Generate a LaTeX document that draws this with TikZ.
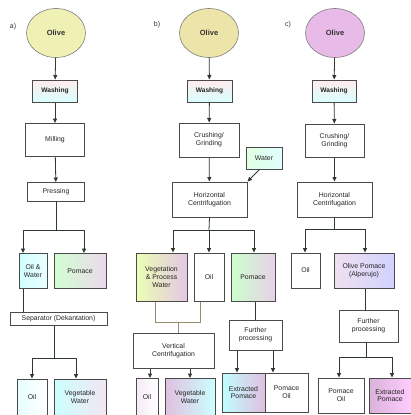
\documentclass[tikz,border=0pt]{standalone}
\usepackage{fontspec}
\setmainfont{Liberation Sans}
\usetikzlibrary{shapes.geometric,arrows.meta}
\definecolor{ln}{HTML}{2E3A2E}
\definecolor{bd}{HTML}{4A4A4A}
\tikzset{
  box/.style={draw=bd, line width=1pt, inner sep=1pt, align=center, text=black!85,
    font=\fontsize{6.9}{7.8}\selectfont},
  oliv/.style={ellipse, draw=bd!70, line width=0.6pt, inner sep=0pt,
    minimum width=59pt, minimum height=49pt, font=\fontsize{7.5}{8}\selectfont\bfseries, text=black!80},
  conn/.style={draw=ln, line width=0.8pt},
  arr/.style={conn, -{Triangle[length=4.5pt,width=4pt]}},
  lbl/.style={font=\fontsize{7}{8}\selectfont, text=black!80},
  wash/.style={box, top color=pink!30, bottom color=cyan!15, font=\fontsize{6.6}{7.4}\selectfont\bfseries},
}
\begin{document}
\begin{tikzpicture}[x=1pt,y=-1pt]
\useasboundingbox (0,0) rectangle (411,415);
\fill[white] (0,0) rectangle (411,415);

% ---------- a ----------
\node[lbl] (la) at (13,27) {a)};
\node[oliv, fill={rgb,255:red,238;green,240;blue,180}] (aolive) at (56,33) {Olive};
\node[wash, minimum width=45pt, minimum height=22pt] (awash) at (55,91) {Washing};
\node[box, fill=white, minimum width=59pt, minimum height=33pt] (amill) at (55,140) {Milling};
\node[box, fill=white, minimum width=57pt, minimum height=19pt] (apress) at (56,192) {Pressing};
\node[box, left color=cyan!18, right color=cyan!8, minimum width=28pt, minimum height=35pt] (aow) at (33,271) {Oil \&\\Water};
\node[box, left color=green!18, right color=violet!15, minimum width=52pt, minimum height=35pt] (apom) at (80,271) {Pomace};
\node[box, fill=white, minimum width=97pt, minimum height=13pt] (asep) at (58.5,318.5) {Separator (Dekantation)};
\node[box, left color=cyan!10, right color=white, minimum width=30pt, minimum height=36pt] (aoil) at (32,397) {Oil};
\node[box, left color=cyan!20, right color=violet!10, minimum width=52pt, minimum height=36pt] (aveg) at (80,397) {Vegetable\\Water};

\draw[arr] (aolive) -- (awash);
\draw[arr] (awash) -- (amill);
\draw[arr] (amill) -- (apress);
\coordinate (aL) at (23,230);
\coordinate (aR) at (84,230);
\draw[conn] (apress.south) -- (apress.south |- aL);
\draw[conn] (aL) -- (aR);
\draw[arr] (aL) -- (aL |- aow.north);
\draw[arr] (aR) -- (aR |- apom.north);
\draw[conn] (aow.south -| aL) -- (aL |- asep.north);
\coordinate (aL2) at (32,358);
\coordinate (aR2) at (76,358);
\draw[conn] (asep.south -| 54,0) -- (54,358);
\draw[conn] (aL2) -- (aR2);
\draw[arr] (aL2) -- (aL2 |- aoil.north);
\draw[arr] (aR2) -- (aR2 |- aveg.north);

% ---------- b ----------
\node[lbl] (lb) at (157,25) {b)};
\node[oliv, fill={rgb,255:red,236;green,228;blue,168}] (bolive) at (209,33) {Olive};
\node[wash, minimum width=45pt, minimum height=22pt] (bwash) at (209.5,91) {Washing};
\node[box, fill=white, minimum width=60pt, minimum height=34pt] (bcrush) at (209,140) {Crushing/\\Grinding};
\node[box, left color=green!12, right color=cyan!12, minimum width=36pt, minimum height=22pt] (bwater) at (264,158) {Water};
\node[box, fill=white, minimum width=75pt, minimum height=35pt] (bhc) at (209.5,199.5) {Horizontal\\Centrifugation};
\node[box, left color=green!25!yellow!30, right color=violet!22, minimum width=51pt, minimum height=48pt] (bvpw) at (161.5,277) {Vegetation\\\& Process\\Water};
\node[box, fill=white, minimum width=30pt, minimum height=48pt] (boil) at (209,277) {Oil};
\node[box, left color=green!20, right color=violet!18, minimum width=44pt, minimum height=48pt] (bpom) at (253,277) {Pomace};
\node[box, fill=white, minimum width=81pt, minimum height=35pt] (bvc) at (173.5,350.5) {Vertical\\Centrifugation};
\node[box, left color=violet!8, right color=white, minimum width=22pt, minimum height=37pt] (boil2) at (147,397) {Oil};
\node[box, left color=violet!25, right color=cyan!20, minimum width=50pt, minimum height=37pt] (bveg) at (190,397) {Vegetable\\Water};
\node[box, fill=white, minimum width=53pt, minimum height=30pt] (bfp) at (255.5,335) {Further\\processing};
\node[box, left color=cyan!25, right color=violet!25, minimum width=43pt, minimum height=39pt] (bext) at (243.5,392.5) {Extracted\\Pomace};
\node[box, fill=white, minimum width=43pt, minimum height=39pt] (bpoil) at (286.5,392.5) {Pomace\\Oil};

\draw[arr] (bolive) -- (bwash);
\draw[arr] (bwash) -- (bcrush);
\draw[arr] (bcrush) -- (bhc);
\draw[arr] (bwater.south west) ++(14,0) coordinate (bw0) (bw0) -- (bhc.north east);
\coordinate (bL) at (173,230);
\coordinate (bM) at (209,230);
\coordinate (bR) at (254,230);
\draw[conn] (bhc.south) -- (bM);
\draw[conn] (bL) -- (bR);
\draw[arr] (bL) -- (bL |- bvpw.north);
\draw[arr] (bM) -- (bM |- boil.north);
\draw[arr] (bR) -- (bR |- bpom.north);
\coordinate (bj1) at (155,322);
\coordinate (bj2) at (200,322);
\draw[conn, draw={rgb,255:red,150;green,140;blue,110}] (bvpw.south -| bj1) -- (bj1) -- (bj2) -- (bj2 |- boil.south);
\draw[conn, draw={rgb,255:red,150;green,140;blue,110}] (178,322) -- (178,0 |- bvc.north);
\draw[arr] ([xshift=3pt]bvc.south -| boil2.north) -- ([xshift=3pt]boil2.north);
\draw[arr] (bvc.south -| bveg.north) -- (bveg.north);
\draw[conn] (bpom.south -| bfp.north) -- (bfp.north);
\draw[arr] ([xshift=-6.5pt]bfp.south -| bext.north) -- ([xshift=-6.5pt]bext.north);
\draw[arr] ([xshift=-13.5pt]bfp.south -| bpoil.north) -- ([xshift=-13.5pt]bpoil.north);

% ---------- c ----------
\node[lbl] (lc) at (288,25) {c)};
\node[oliv, fill={rgb,255:red,232;green,186;blue,232}] (colive) at (335,33) {Olive};
\node[wash, minimum width=44pt, minimum height=22pt] (cwash) at (334,91) {Washing};
\node[box, fill=white, minimum width=59pt, minimum height=33pt] (ccrush) at (334.5,140.5) {Crushing/\\Grinding};
\node[box, fill=white, minimum width=75pt, minimum height=35pt] (chc) at (334.5,199.5) {Horizontal\\Centrifugation};
\node[box, fill=white, minimum width=29pt, minimum height=35pt] (coil) at (305.5,270.5) {Oil};
\node[box, left color=violet!12, right color=blue!18, minimum width=60pt, minimum height=35pt] (cpom) at (364,270.5) {Olive Pomace\\(Alperujo)};
\node[box, fill=white, minimum width=59pt, minimum height=32pt] (cfp) at (368.5,326) {Further\\processing};
\node[box, fill=white, minimum width=46pt, minimum height=35pt] (cpoil) at (341,395.5) {Pomace\\Oil};
\node[box, left color=violet!30, right color=magenta!20, minimum width=42pt, minimum height=35pt] (cext) at (390,395.5) {Extracted\\Pomace};

\draw[arr] (colive) -- (cwash);
\draw[arr] (cwash) -- (ccrush);
\draw[arr] (ccrush) -- (chc);
\coordinate (cL) at (305,229);
\coordinate (cR) at (365,229);
\draw[conn] (chc.south) -- (chc.south |- cL);
\draw[conn] (cL) -- (cR);
\draw[arr] (cL) -- (cL |- coil.north);
\draw[arr] (cR) -- (cR |- cpom.north);
\draw[conn] (cpom.south -| 365,0) -- (365,0 |- cfp.north);
\coordinate (cL2) at (339,357);
\coordinate (cR2) at (392,357);
\draw[conn] (cfp.south -| 366,0) -- (366,357);
\draw[conn] (cL2) -- (cR2);
\draw[arr] (cL2) -- (cL2 |- cpoil.north);
\draw[arr] (cR2) -- (cR2 |- cext.north);
\end{tikzpicture}
\end{document}
